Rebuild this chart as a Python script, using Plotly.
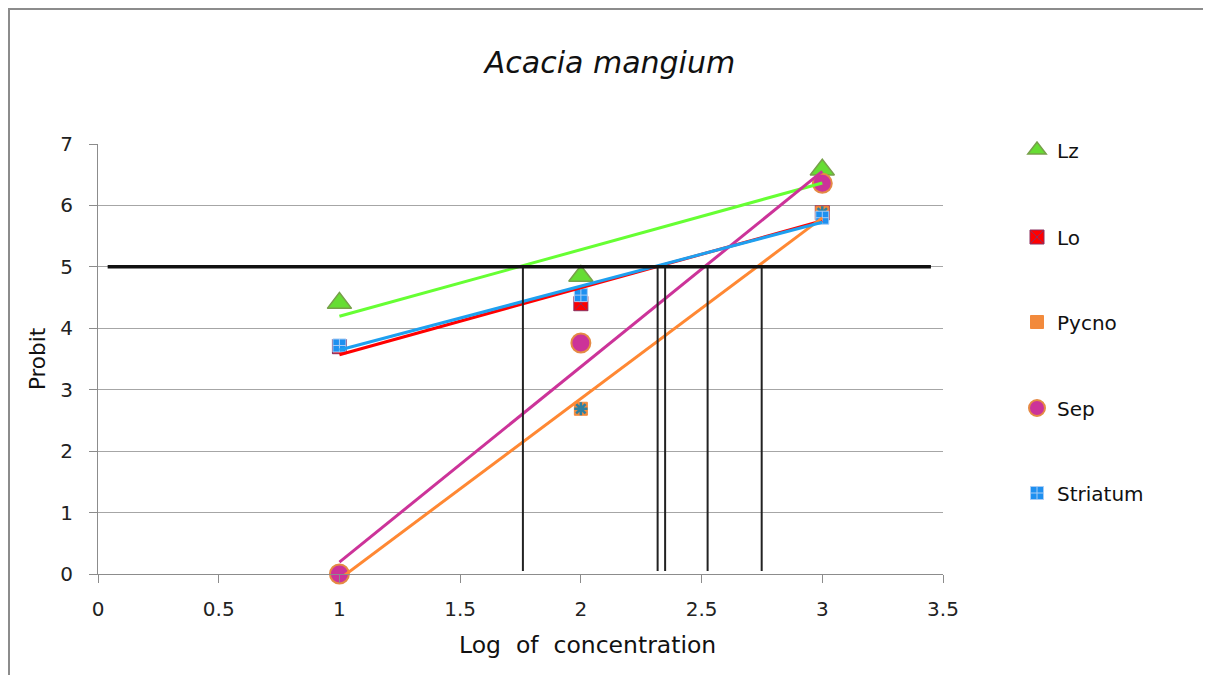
import numpy as np
import plotly.graph_objects as go

# ---- data ----
log_conc = [1, 2, 3]
lz = [4.41, 4.85, 6.58]
lo = [3.70, 4.40, 5.88]
pycno = [0.0, 2.69, 5.88]
sep = [0.0, 3.76, 6.36]
striatum = [3.72, 4.54, 5.80]
lc50 = [1.76, 2.318, 2.349, 2.525, 2.749]
probit_ref = 5
x_ticks = [0, 0.5, 1, 1.5, 2, 2.5, 3, 3.5]
y_ticks = [0, 1, 2, 3, 4, 5, 6, 7]

FONT = "DejaVu Sans"
FW, FH = 1203, 667          # figure size (page adds an 8px body margin)
L, T, W, H = 90, 136, 845, 430
fig = go.Figure()

series = [
    ("Lz", lz, dict(symbol="triangle-up", size=21, color="#66DD33",
                    line=dict(color="#77A04A", width=1.5)), "#66FF33"),
    ("Lo", lo, dict(symbol="square-x", size=14, color="#FF0000",
                    line=dict(color="#8A3060", width=1)), "#FF0000"),
    ("Pycno", pycno, dict(symbol="square", size=13, color="#F28A3C",
                          line=dict(color="#F28A3C", width=1)), "#FF8833"),
    ("Sep", sep, dict(symbol="circle", size=19, color="#CC3399",
                      line=dict(color="#E58A45", width=2)), "#CC3399"),
    ("Striatum", striatum, dict(symbol="square-cross", size=13, color="#1E90F0",
                                line=dict(color="#A8CCF5", width=1)), "#1EA0F0"),
]
legend_centers = [142, 229, 314, 400, 485]  # figure rows of legend entries

# markers (each in its own legend box)
for i, (name, ys, mk, lc) in enumerate(series):
    lg = "legend" if i == 0 else f"legend{i + 1}"
    fig.add_trace(go.Scatter(x=log_conc, y=ys, mode="markers", name=name,
                             marker=mk, legend=lg, cliponaxis=False))
    if name == "Pycno":
        fig.add_trace(go.Scatter(x=log_conc, y=ys, mode="markers", showlegend=False,
                                 marker=dict(symbol="asterisk-open", size=11,
                                             color="#2F7F9F",
                                             line=dict(color="#2F7F9F", width=2.5)),
                                 hoverinfo="skip", cliponaxis=False))

# linear trendlines
for name, ys, mk, lc in series:
    slope, intercept = np.polyfit(log_conc, ys, 1)
    xs = np.array([log_conc[0], log_conc[-1]], dtype=float)
    fig.add_trace(go.Scatter(x=xs, y=slope * xs + intercept, mode="lines",
                             line=dict(color=lc, width=3), showlegend=False,
                             hoverinfo="skip", cliponaxis=False))

# vertical LC50 lines
for v in lc50:
    fig.add_trace(go.Scatter(x=[v, v], y=[0.05, probit_ref], mode="lines",
                             line=dict(color="#222222", width=2), showlegend=False,
                             hoverinfo="skip"))

# horizontal probit 5 line
fig.add_shape(type="line", xref="x", yref="y", x0=0.04, x1=3.45,
              y0=probit_ref, y1=probit_ref, line=dict(color="#111111", width=3.5))

# outer border
fig.add_shape(type="rect", xref="paper", yref="paper",
              x0=(1 - L) / W, x1=(1200 - L) / W,
              y0=(T + H - 690) / H, y1=(T + H - 1) / H,
              line=dict(color="#8C8C8C", width=2), layer="below")

# x-axis title (offset to the right, as in the original)
fig.add_annotation(text="Log  of  concentration", xref="paper", yref="paper",
                   x=(579 - L) / W, y=(T + H - 637) / H, xanchor="center",
                   yanchor="middle", showarrow=False,
                   font=dict(family=FONT, size=23.5, color="#111111"))

legend_common = dict(xanchor="left", yanchor="middle", x=(1009 - L) / W,
                     font=dict(family=FONT, size=20, color="#111111"),
                     bgcolor="rgba(0,0,0,0)", itemwidth=30)
legends = {}
for i, yc in enumerate(legend_centers):
    key = "legend" if i == 0 else f"legend{i + 1}"
    legends[key] = dict(legend_common, y=(T + H - yc) / H)

fig.update_layout(
    width=FW, height=FH,
    margin=dict(l=L, r=FW - L - W, t=T, b=FH - T - H, autoexpand=False),
    paper_bgcolor="white", plot_bgcolor="white",
    font=dict(family=FONT, size=20, color="#222222"),
    title=dict(text="<i>Acacia mangium</i>", x=602 / FW, xanchor="center",
               y=1 - 54 / FH, yanchor="middle",
               font=dict(family=FONT, size=30, color="#111111")),
    showlegend=True,
    **legends,
    xaxis=dict(range=[0, 3.5], tickvals=x_ticks, ticktext=[str(t) for t in x_ticks],
               showgrid=False, zeroline=False, showline=True, linecolor="#8C8C8C",
               linewidth=1.2, ticks="outside", ticklen=8, tickcolor="#8C8C8C",
               tickfont=dict(size=20, color="#222222"), automargin=False,
               ticklabelstandoff=9),
    yaxis=dict(range=[0, 7], tickvals=y_ticks, showgrid=True, gridcolor="#A6A6A6",
               gridwidth=1.2, zeroline=False, showline=True, linecolor="#8C8C8C",
               linewidth=1.2, ticks="outside", ticklen=8, tickcolor="#8C8C8C",
               tickfont=dict(size=20, color="#222222"), automargin=False,
               ticklabelstandoff=12,
               title=dict(text="Probit", font=dict(size=21.5, color="#111111"), standoff=8)),
)

fig.write_html("out.html")
